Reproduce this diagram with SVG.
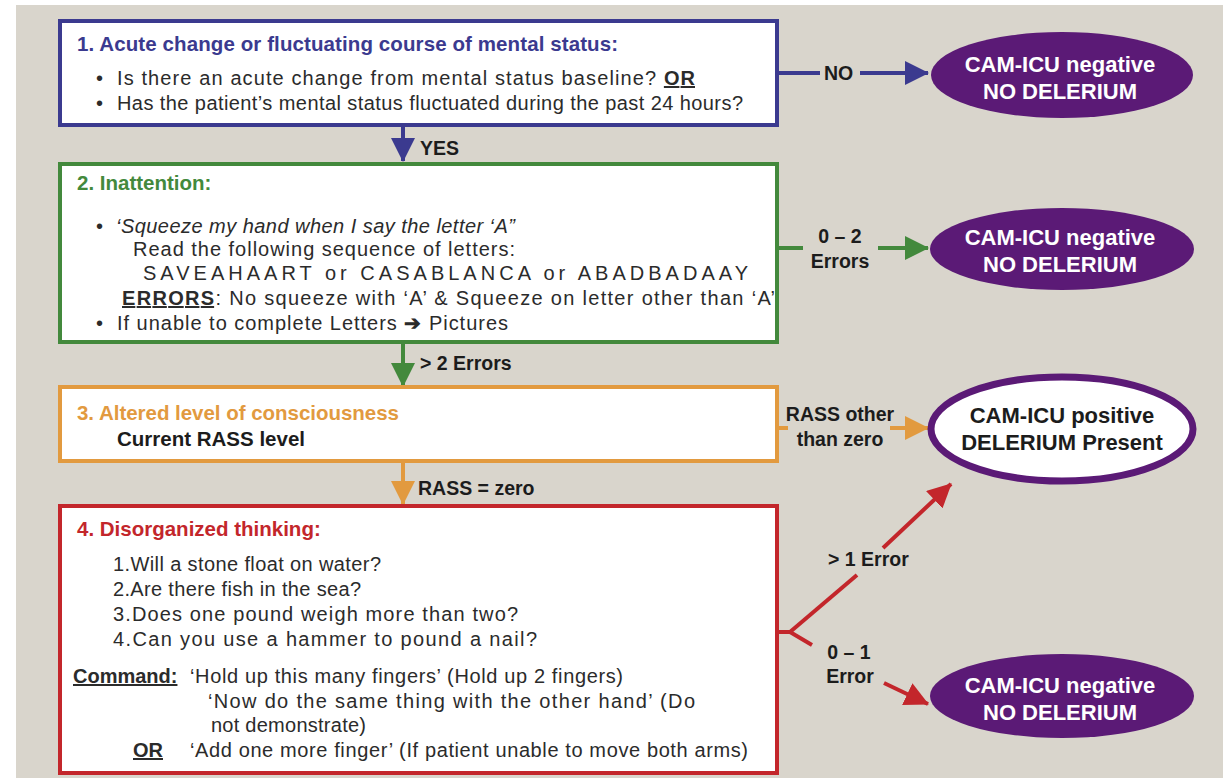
<svg xmlns="http://www.w3.org/2000/svg" width="1223" height="778" viewBox="0 0 1223 778">
  <style>
    text { font-family: "Liberation Sans", Arial, sans-serif; }
    .box { fill: #ffffff; stroke-width: 4; }
    .title { font-size: 20.5px; font-weight: bold; }
    .body { font-size: 20px; fill: #2b2b2b; }
    .lbl { font-size: 19.5px; font-weight: bold; fill: #1c1c1c; }
    .ovl { font-size: 22px; font-weight: bold; text-anchor: middle; }
    .neg { fill: #5b1a76; }
    .u { text-decoration: underline; font-weight: bold; }
    .conn { fill: none; stroke-width: 4; }
  </style>
  <defs>
    <marker id="ah-blue" markerUnits="userSpaceOnUse" viewBox="0 0 24 24" markerWidth="24" markerHeight="24" refX="23" refY="12" orient="auto">
      <path d="M0,0 L24,12 L0,24 z" fill="#3b3a8f"/>
    </marker>
    <marker id="ah-green" markerUnits="userSpaceOnUse" viewBox="0 0 24 24" markerWidth="24" markerHeight="24" refX="23" refY="12" orient="auto">
      <path d="M0,0 L24,12 L0,24 z" fill="#43893c"/>
    </marker>
    <marker id="ah-orange" markerUnits="userSpaceOnUse" viewBox="0 0 24 24" markerWidth="24" markerHeight="24" refX="23" refY="12" orient="auto">
      <path d="M0,0 L24,12 L0,24 z" fill="#e29a3f"/>
    </marker>
    <marker id="ah-red" markerUnits="userSpaceOnUse" viewBox="0 0 24 24" markerWidth="24" markerHeight="24" refX="23" refY="12" orient="auto">
      <path d="M0,0 L24,12 L0,24 z" fill="#c3262b"/>
    </marker>
  </defs>

  <!-- page -->
  <rect x="0" y="0" width="1223" height="778" fill="#ffffff"/>
  <rect x="16" y="5" width="1207" height="773" fill="#d9d5cc"/>

  <!-- connectors -->
  <g id="connectors">
    <line class="conn" stroke="#3b3a8f" x1="403" y1="125" x2="403" y2="161" marker-end="url(#ah-blue)"/>
    <line class="conn" stroke="#3b3a8f" x1="777" y1="73" x2="820" y2="73"/>
    <line class="conn" stroke="#3b3a8f" x1="860" y1="73" x2="928" y2="73" marker-end="url(#ah-blue)"/>

    <line class="conn" stroke="#43893c" x1="403" y1="342" x2="403" y2="386" marker-end="url(#ah-green)"/>
    <line class="conn" stroke="#43893c" x1="777" y1="248" x2="803" y2="248"/>
    <line class="conn" stroke="#43893c" x1="878" y1="248" x2="928" y2="248" marker-end="url(#ah-green)"/>

    <line class="conn" stroke="#e29a3f" x1="403" y1="461" x2="403" y2="504" marker-end="url(#ah-orange)"/>
    <line class="conn" stroke="#e29a3f" x1="777" y1="428" x2="788" y2="428"/>
    <line class="conn" stroke="#e29a3f" x1="890" y1="428" x2="928" y2="428" marker-end="url(#ah-orange)"/>

    <line class="conn" stroke="#c3262b" x1="777" y1="632" x2="791" y2="632"/>
    <line class="conn" stroke="#c3262b" x1="790" y1="632" x2="857" y2="575"/>
    <line class="conn" stroke="#c3262b" x1="883" y1="548" x2="951" y2="484" marker-end="url(#ah-red)"/>
    <line class="conn" stroke="#c3262b" x1="790" y1="632" x2="812" y2="645"/>
    <line class="conn" stroke="#c3262b" x1="884" y1="683" x2="928" y2="704" marker-end="url(#ah-red)"/>

    <text class="lbl" x="420" y="155">YES</text>
    <text class="lbl" x="824" y="80">NO</text>
    <text class="lbl" x="840" y="243" text-anchor="middle">0 – 2</text>
    <text class="lbl" x="840" y="268" text-anchor="middle">Errors</text>
    <text class="lbl" x="420" y="370">&gt; 2 Errors</text>
    <text class="lbl" x="840" y="421" text-anchor="middle">RASS other</text>
    <text class="lbl" x="840" y="446" text-anchor="middle">than zero</text>
    <text class="lbl" x="418" y="495">RASS = zero</text>
    <text class="lbl" x="828" y="566">&gt; 1 Error</text>
    <text class="lbl" x="849" y="659" text-anchor="middle">0 – 1</text>
    <text class="lbl" x="850" y="683" text-anchor="middle">Error</text>
  </g>

  <!-- 1. acute change -->
  <g id="step1">
    <rect class="box" stroke="#3b3a8f" x="60" y="21" width="717" height="104"/>
    <text class="title" fill="#3b3a8f" x="77" y="51" textLength="541">1. Acute change or fluctuating course of mental status:</text>
    <text class="body" x="96" y="85">•</text>
    <text class="body" x="117" y="85" textLength="578">Is there an acute change from mental status baseline? <tspan class="u">OR</tspan></text>
    <text class="body" x="96" y="110">•</text>
    <text class="body" x="117" y="110" textLength="626">Has the patient’s mental status fluctuated during the past 24 hours?</text>
  </g>

  <!-- 2. inattention -->
  <g id="step2">
    <rect class="box" stroke="#43893c" x="60" y="164" width="717" height="178"/>
    <text class="title" fill="#43893c" x="77" y="190">2. Inattention:</text>
    <text class="body" x="96" y="233">•</text>
    <text class="body" x="116" y="233" font-style="italic" textLength="399">‘Squeeze my hand when I say the letter ‘A”</text>
    <text class="body" x="133" y="256" textLength="382">Read the following sequence of letters:</text>
    <text class="body" x="143" y="280" textLength="605">SAVEAHAART or CASABLANCA or ABADBADAAY</text>
    <text class="body" x="122" y="305" textLength="653"><tspan class="u">ERRORS</tspan>: No squeeze with ‘A’ &amp; Squeeze on letter other than ‘A’</text>
    <text class="body" x="96" y="330">•</text>
    <text class="body" x="117" y="330" textLength="391">If unable to complete Letters <tspan font-weight="bold">➔</tspan> Pictures</text>
  </g>

  <!-- 3. altered level of consciousness -->
  <g id="step3">
    <rect class="box" stroke="#e29a3f" x="60" y="387" width="717" height="74"/>
    <text class="title" fill="#e29a3f" x="77" y="420" textLength="322">3. Altered level of consciousness</text>
    <text class="title" fill="#1c1c1c" x="117" y="446">Current RASS level</text>
  </g>

  <!-- 4. disorganized thinking -->
  <g id="step4">
    <rect class="box" stroke="#c3262b" x="60" y="506" width="717" height="267"/>
    <text class="title" fill="#c3262b" x="77" y="536">4. Disorganized thinking:</text>
    <text class="body" x="113" y="571" textLength="268">1.Will a stone float on water?</text>
    <text class="body" x="113" y="596" textLength="248">2.Are there fish in the sea?</text>
    <text class="body" x="113" y="621" textLength="405">3.Does one pound weigh more than two?</text>
    <text class="body" x="113" y="646" textLength="424">4.Can you use a hammer to pound a nail?</text>
    <text class="body" x="73" y="683"><tspan class="u">Command:</tspan></text>
    <text class="body" x="190" y="683" textLength="433">‘Hold up this many fingers’ (Hold up 2 fingers)</text>
    <text class="body" x="208" y="708" textLength="487">‘Now do the same thing with the other hand’ (Do</text>
    <text class="body" x="211" y="732" textLength="155">not demonstrate)</text>
    <text class="body" x="133" y="757"><tspan class="u">OR</tspan></text>
    <text class="body" x="190" y="757" textLength="558">‘Add one more finger’ (If patient unable to move both arms)</text>
  </g>

  <!-- outcomes -->
  <g id="outcome-neg-1">
    <ellipse class="neg" cx="1062" cy="75" rx="131" ry="43"/>
    <text class="ovl" fill="#ffffff" x="1060" y="72">CAM-ICU negative</text>
    <text class="ovl" fill="#ffffff" x="1060" y="99">NO DELERIUM</text>
  </g>
  <g id="outcome-neg-2">
    <ellipse class="neg" cx="1062" cy="249" rx="132" ry="41"/>
    <text class="ovl" fill="#ffffff" x="1060" y="245">CAM-ICU negative</text>
    <text class="ovl" fill="#ffffff" x="1060" y="272">NO DELERIUM</text>
  </g>
  <g id="outcome-pos">
    <ellipse cx="1062" cy="429" rx="131" ry="52" fill="#ffffff" stroke="#5b1a76" stroke-width="7"/>
    <text class="ovl" fill="#1c1c1c" x="1062" y="423">CAM-ICU positive</text>
    <text class="ovl" fill="#1c1c1c" x="1062" y="450">DELERIUM Present</text>
  </g>
  <g id="outcome-neg-3">
    <ellipse class="neg" cx="1062" cy="696" rx="132" ry="42"/>
    <text class="ovl" fill="#ffffff" x="1060" y="693">CAM-ICU negative</text>
    <text class="ovl" fill="#ffffff" x="1060" y="720">NO DELERIUM</text>
  </g>
</svg>
